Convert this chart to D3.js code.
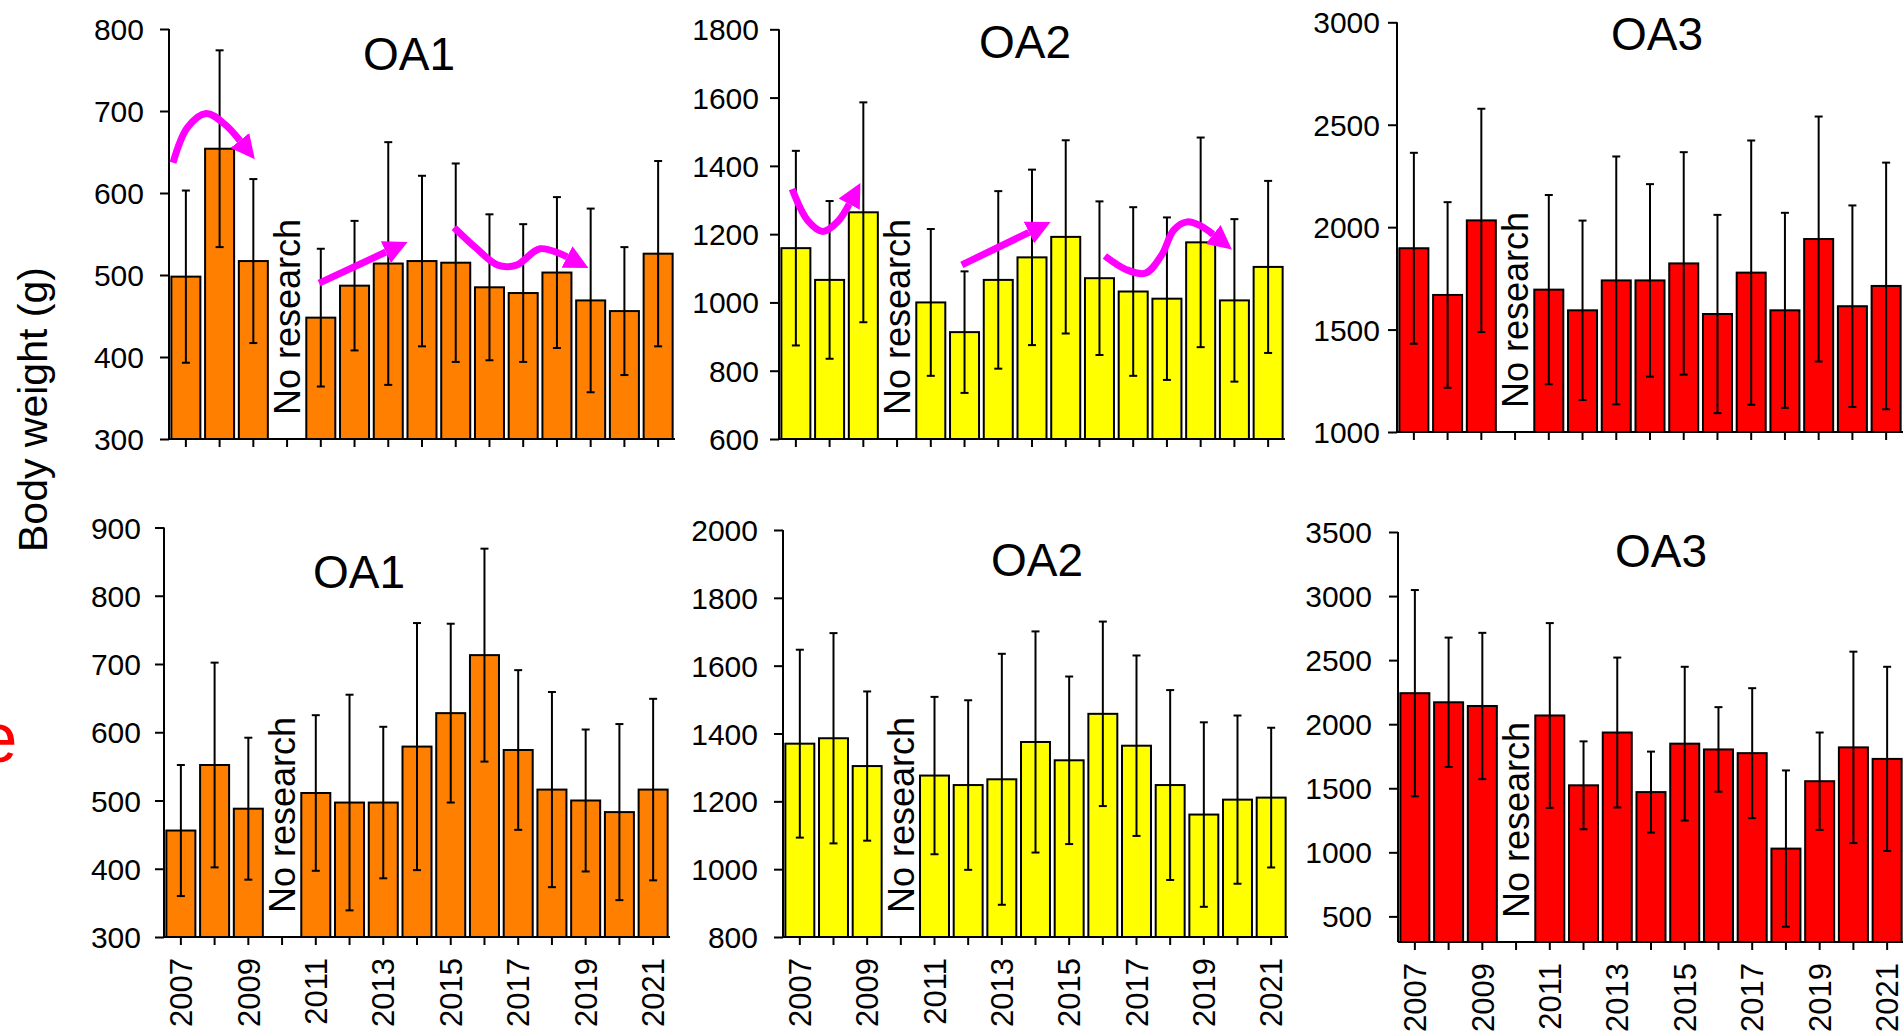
<!DOCTYPE html>
<html>
<head>
<meta charset="utf-8">
<script src="https://cdn.jsdelivr.net/npm/d3@7"></script>
<style>
  html, body { margin: 0; padding: 0; background: #fff; }
  svg { display: block; font-family: "Liberation Sans", Arial, sans-serif; }
</style>
</head>
<body>
<svg id="chart" width="1903" height="1031"></svg>
<script>
// Survey years (2010 had no survey)
const years = ["2007", "2008", "2009", "2010", "2011", "2012", "2013", "2014",
               "2015", "2016", "2017", "2018", "2019", "2020", "2021"];
const yearLabels = ["2007", "2009", "2011", "2013", "2015", "2017", "2019", "2021"];

// Mean body weight (g) and standard deviation, upper row
const topOA1Mean = [498, 654, 517, null, 448, 487, 514, 517, 515, 485, 478, 503, 469, 456, 526];
const topOA1Sd   = [105, 120, 100, null, 84, 79, 148, 104, 121, 89, 84, 92, 112, 78, 113];
const topOA2Mean = [1159, 1066, 1264, null, 1000, 913, 1066, 1132, 1192, 1071, 1032, 1011, 1176, 1006, 1104];
const topOA2Sd   = [285, 231, 322, null, 215, 178, 260, 257, 283, 225, 247, 238, 307, 238, 252];
const topOA3Mean = [1897, 1669, 2033, null, 1695, 1594, 1740, 1740, 1823, 1576, 1778, 1594, 1942, 1614, 1713];
const topOA3Sd   = [466, 453, 545, null, 462, 438, 605, 470, 543, 484, 645, 476, 598, 492, 602];

// Mean body weight (g) and standard deviation, lower row
const botOA1Mean = [456, 552, 488, null, 511, 497, 497, 579, 628, 713, 574, 516, 500, 483, 516];
const botOA1Sd   = [96, 150, 104, null, 114, 158, 111, 181, 131, 156, 117, 143, 104, 129, 133];
const botOA2Mean = [1370, 1386, 1304, null, 1276, 1248, 1265, 1375, 1321, 1458, 1364, 1248, 1161, 1205, 1211];
const botOA2Sd   = [277, 310, 220, null, 232, 250, 370, 326, 247, 272, 266, 280, 272, 248, 206];
const botOA3Mean = [2242, 2171, 2142, null, 2068, 1523, 1935, 1470, 1848, 1803, 1774, 1029, 1555, 1819, 1729];
const botOA3Sd   = [805, 505, 571, null, 721, 343, 585, 316, 600, 330, 507, 610, 380, 747, 719];

// Y-axis tick values
const ticksOA1top = [300, 400, 500, 600, 700, 800];
const ticksOA2top = [600, 800, 1000, 1200, 1400, 1600, 1800];
const ticksOA3top = [1000, 1500, 2000, 2500, 3000];
const ticksOA1bot = [300, 400, 500, 600, 700, 800, 900];
const ticksOA2bot = [800, 1000, 1200, 1400, 1600, 1800, 2000];
const ticksOA3bot = [500, 1000, 1500, 2000, 2500, 3000, 3500];

// Trend arrows: [year position, body weight]
const arrowsOA1 = [
  [[2006.62, 637], [2007.05, 680], [2007.6, 697], [2008.15, 684], [2008.6, 664]],
  [[2010.95, 490], [2012.93, 528]],
  [[2014.95, 558], [2015.6, 533], [2016.25, 512], [2016.8, 512], [2017.5, 532], [2018.3, 522]]
];
const arrowsOA2 = [
  [[2006.89, 1332], [2007.35, 1240], [2007.8, 1208], [2008.25, 1238], [2008.58, 1288]],
  [[2011.92, 1110], [2013.91, 1205]],
  [[2016.16, 1136], [2016.8, 1096], [2017.37, 1086], [2017.85, 1140], [2018.2, 1212],
   [2018.6, 1236], [2019.0, 1224], [2019.37, 1199]]
];

const panels = [
  { title: "OA1", mean: topOA1Mean, sd: topOA1Sd, ticks: ticksOA1top, domain: [300, 800],
    fill: "#FF8000", x0: 169, x1: 675, yTop: 29, yBase: 439, labelGap: 25,
    titleX: 409, titleY: 70, showYears: false, arrows: arrowsOA1 },
  { title: "OA2", mean: topOA2Mean, sd: topOA2Sd, ticks: ticksOA2top, domain: [600, 1800],
    fill: "#FFFF00", x0: 779, x1: 1285, yTop: 29.3, yBase: 439, labelGap: 20,
    titleX: 1025, titleY: 58, showYears: false, arrows: arrowsOA2 },
  { title: "OA3", mean: topOA3Mean, sd: topOA3Sd, ticks: ticksOA3top, domain: [1000, 3000],
    fill: "#FF0000", x0: 1397, x1: 1903, yTop: 22.3, yBase: 432, labelGap: 17,
    titleX: 1657, titleY: 50, showYears: false, arrows: [] },
  { title: "OA1", mean: botOA1Mean, sd: botOA1Sd, ticks: ticksOA1bot, domain: [300, 900],
    fill: "#FF8000", x0: 164, x1: 670, yTop: 527.5, yBase: 937, labelGap: 23,
    titleX: 359, titleY: 588, showYears: true, arrows: [] },
  { title: "OA2", mean: botOA2Mean, sd: botOA2Sd, ticks: ticksOA2bot, domain: [800, 2000],
    fill: "#FFFF00", x0: 783, x1: 1288, yTop: 530, yBase: 937, labelGap: 25,
    titleX: 1037, titleY: 576, showYears: true, arrows: [] },
  { title: "OA3", mean: botOA3Mean, sd: botOA3Sd, ticks: ticksOA3bot, domain: [300, 3500],
    fill: "#FF0000", x0: 1398, x1: 1904, yTop: 532, yBase: 942, labelGap: 26,
    titleX: 1661, titleY: 567, showYears: true, arrows: [] }
];

const svg = d3.select("#chart");

// Arrowhead for the trend annotations
svg.append("defs").append("marker")
  .attr("id", "arrowHead")
  .attr("markerUnits", "userSpaceOnUse")
  .attr("viewBox", "0 0 24 24")
  .attr("refX", 0).attr("refY", 12)
  .attr("markerWidth", 24).attr("markerHeight", 24)
  .attr("orient", "auto")
  .append("path")
  .attr("d", "M0,0 L24,12 L0,24 Z")
  .attr("fill", "#FF00FF");

panels.forEach(p => {
  const g = svg.append("g");
  const rows = years.map((yr, i) => ({ year: yr, mean: p.mean[i], sd: p.sd[i] }));

  const x = d3.scaleBand().domain(years).range([p.x0, p.x1])
    .paddingInner(0.14).paddingOuter(0.07);
  // continuous year position for annotations
  const xPos = d3.scaleLinear().domain([2006.5, 2021.5]).range([p.x0, p.x1]);
  // top tick value sits at yTop
  const maxTick = d3.max(p.ticks);
  const y = d3.scaleLinear().domain([p.domain[0], maxTick]).range([p.yBase, p.yTop]);

  // bars
  const data = rows.filter(d => d.mean != null);
  g.selectAll("rect.bar").data(data).join("rect")
    .attr("class", "bar")
    .attr("x", d => x(d.year))
    .attr("y", d => y(d.mean))
    .attr("width", x.bandwidth())
    .attr("height", d => y(p.domain[0]) - y(d.mean))
    .attr("fill", p.fill)
    .attr("stroke", "#000")
    .attr("stroke-width", 2);

  // error bars (mean ± SD)
  const cx = d => x(d.year) + x.bandwidth() / 2;
  const eb = g.selectAll("g.err").data(data).join("g").attr("class", "err")
    .attr("stroke", "#000").attr("stroke-width", 2);
  eb.append("line")
    .attr("x1", cx).attr("x2", cx)
    .attr("y1", d => y(d.mean + d.sd))
    .attr("y2", d => y(Math.max(p.domain[0], d.mean - d.sd)));
  eb.append("line")
    .attr("x1", d => cx(d) - 4).attr("x2", d => cx(d) + 4)
    .attr("y1", d => y(d.mean + d.sd)).attr("y2", d => y(d.mean + d.sd));
  eb.filter(d => d.mean - d.sd > p.domain[0]).append("line")
    .attr("x1", d => cx(d) - 4).attr("x2", d => cx(d) + 4)
    .attr("y1", d => y(d.mean - d.sd)).attr("y2", d => y(d.mean - d.sd));

  // x axis
  const xAxis = d3.axisBottom(x).tickSize(8).tickSizeOuter(0)
    .tickFormat("");
  const gx = g.append("g").attr("transform", `translate(0,${p.yBase})`).call(xAxis);
  gx.select(".domain").attr("stroke-width", 2)
    .attr("d", `M${p.x0},0H${p.x1}`);
  gx.selectAll(".tick line").attr("stroke-width", 2);

  if (p.showYears) {
    g.selectAll("text.year").data(yearLabels).join("text")
      .attr("class", "year")
      .attr("transform", d => `translate(${x(d) + x.bandwidth() / 2},${p.yBase + 21}) rotate(-90)`)
      .attr("text-anchor", "end")
      .attr("dy", "0.36em")
      .attr("font-size", 31)
      .attr("fill", "#000")
      .text(d => d);
  }

  // y axis
  const yAxis = d3.axisLeft(y).tickValues(p.ticks).tickSize(9).tickSizeOuter(0)
    .tickPadding(p.labelGap - 9).tickFormat(d3.format("d"));
  const gy = g.append("g").attr("transform", `translate(${p.x0},0)`).call(yAxis);
  gy.select(".domain").attr("stroke-width", 2)
    .attr("d", `M0,${p.yBase}V${p.yTop}`);
  gy.selectAll(".tick line").attr("stroke-width", 2);
  gy.selectAll(".tick text").attr("font-size", 30).attr("font-family", null)
    .attr("fill", "#000").attr("dy", "0.35em");
  gy.attr("font-family", null);
  gx.attr("font-family", null);

  // gap year note
  g.append("text")
    .attr("transform", `translate(${x("2010") + x.bandwidth() / 2},${p.yBase - 24}) rotate(-90)`)
    .attr("text-anchor", "start")
    .attr("dy", "0.36em")
    .attr("font-size", 36)
    .attr("fill", "#000")
    .text("No research");

  // panel title
  g.append("text")
    .attr("x", p.titleX).attr("y", p.titleY)
    .attr("text-anchor", "middle")
    .attr("font-size", 46)
    .attr("fill", "#000")
    .text(p.title);

  // trend arrows
  const line = d3.line().x(d => xPos(d[0])).y(d => y(d[1])).curve(d3.curveCatmullRom.alpha(0.5));
  g.selectAll("path.arrow").data(p.arrows).join("path")
    .attr("class", "arrow")
    .attr("d", line)
    .attr("fill", "none")
    .attr("stroke", "#FF00FF")
    .attr("stroke-width", 7)
    .attr("marker-end", "url(#arrowHead)");
});

// shared y-axis title
svg.append("text")
  .attr("transform", "translate(47,552) rotate(-90)")
  .attr("text-anchor", "start")
  .attr("font-size", 41)
  .attr("fill", "#000")
  .text("Body weight (g)");

// row label, running off the left edge
svg.append("text")
  .attr("x", 17.5).attr("y", 762)
  .attr("text-anchor", "end")
  .attr("font-size", 70)
  .attr("fill", "#FF0000")
  .text("e");
</script>
</body>
</html>
